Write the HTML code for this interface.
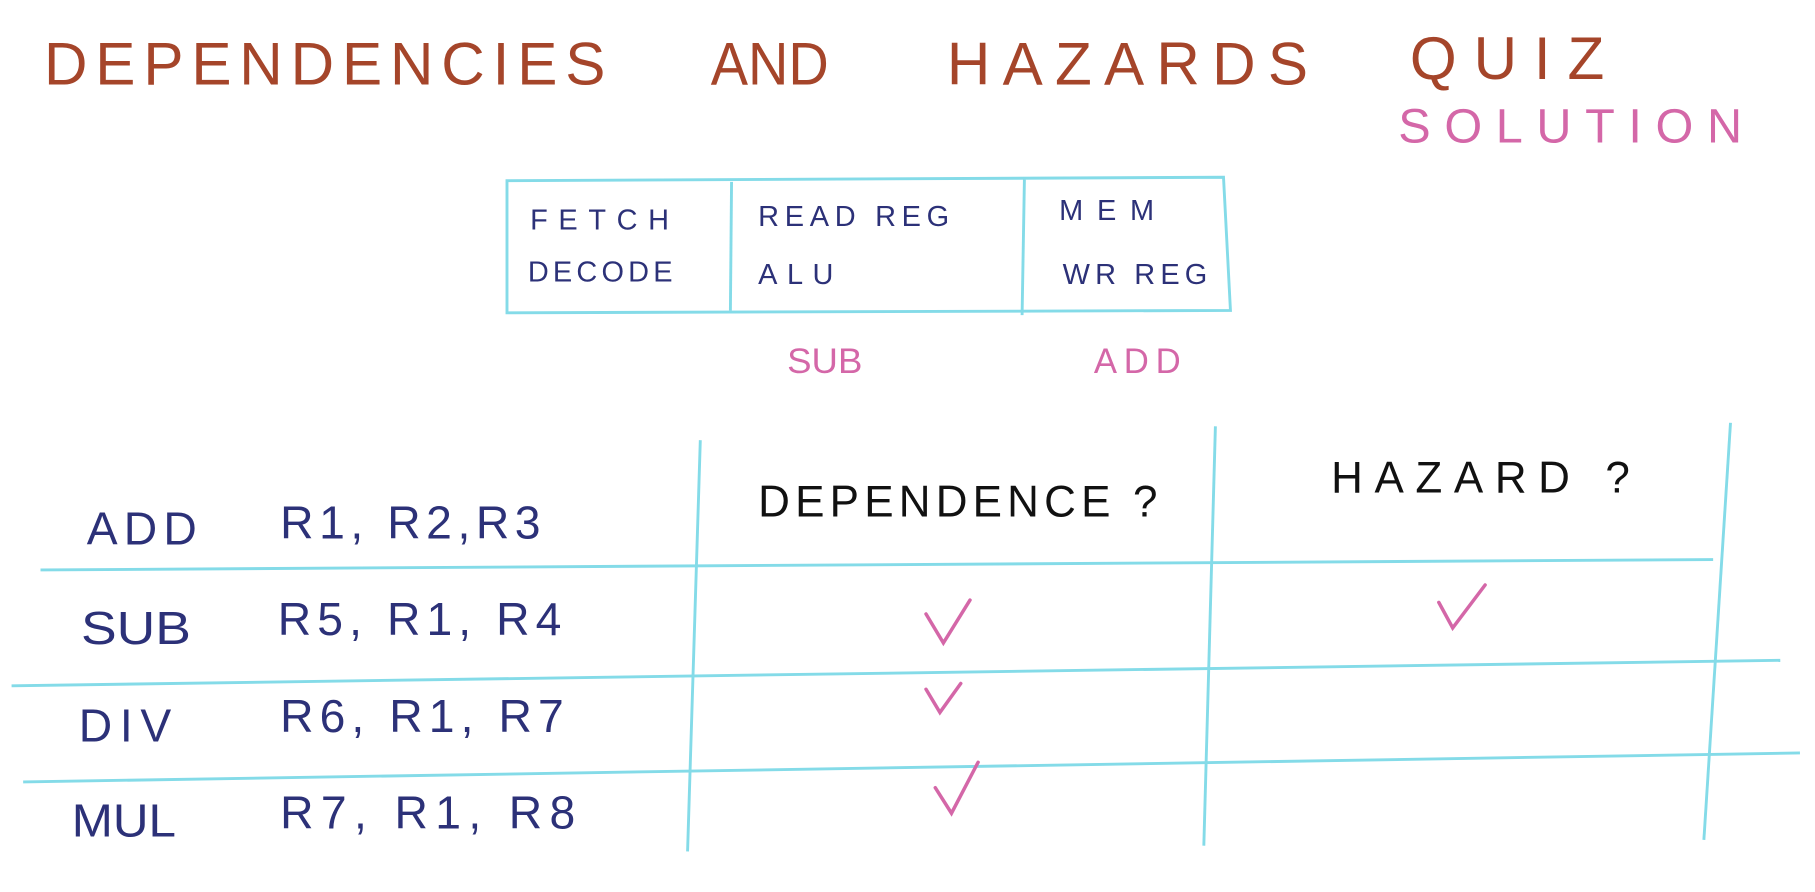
<!DOCTYPE html>
<html><head><meta charset="utf-8"><style>
html,body{margin:0;padding:0;background:#fff;}
svg{display:block;}
text{font-family:"Liberation Sans",sans-serif;}
</style></head><body>
<svg width="1815" height="892" viewBox="0 0 1568 770" preserveAspectRatio="none" xmlns="http://www.w3.org/2000/svg">
<rect width="1568" height="770" fill="#fff"/>
<g fill="#a5452a" font-size="52" lengthAdjust="spacing">
<text x="38" y="73" textLength="485">DEPENDENCIES</text>
<text x="614" y="73" textLength="102" lengthAdjust="spacingAndGlyphs">AND</text>
<text x="818" y="73" textLength="312">HAZARDS</text>
<text x="1218" y="68" textLength="168">QUIZ</text>
</g>
<text x="1208" y="123" fill="#d467a8" font-size="42" textLength="297" lengthAdjust="spacing">SOLUTION</text>
<g stroke="#84dbe8" stroke-width="2.5" fill="none">
<path d="M438 156 L1057 153 L1063 268 L438 270 Z"/>
<path d="M632 157 L631 268"/><path d="M885 155 L883 272"/>
<path d="M605 380 L594 735"/><path d="M1050 368 L1040 730"/><path d="M1495 365 L1472 725"/>
<path d="M35 492 L1480 483"/><path d="M10 592 L1538 570"/><path d="M20 675 L1555 650"/>
</g>
<g fill="#2c3178" font-size="25" lengthAdjust="spacing">
<text x="458" y="198" textLength="120">FETCH</text><text x="456" y="243" textLength="125">DECODE</text>
<text x="655" y="195" textLength="165">READ REG</text><text x="655" y="245" textLength="65">ALU</text>
<text x="915" y="190" textLength="82">MEM</text><text x="918" y="245" textLength="125">WR REG</text>
</g>
<g fill="#d467a8" font-size="30" lengthAdjust="spacing">
<text x="680" y="322" textLength="65" lengthAdjust="spacingAndGlyphs">SUB</text><text x="945" y="322" textLength="75">ADD</text>
</g>
<g fill="#111" font-size="38" lengthAdjust="spacing">
<text x="655" y="446" textLength="345">DEPENDENCE ?</text>
<text x="1150" y="425" textLength="258">HAZARD ?</text>
</g>
<g fill="#2c3178" font-size="40" lengthAdjust="spacing">
<text x="75" y="470" textLength="95">ADD</text><text x="242" y="465" textLength="225">R1, R2,R3</text>
<text x="70" y="556" textLength="95" lengthAdjust="spacingAndGlyphs">SUB</text><text x="240" y="548" textLength="245">R5, R1, R4</text>
<text x="68" y="640" textLength="80">DIV</text><text x="242" y="632" textLength="245">R6, R1, R7</text>
<text x="62" y="722" textLength="90" lengthAdjust="spacingAndGlyphs">MUL</text><text x="242" y="715" textLength="255">R7, R1, R8</text>
</g>
<g stroke="#d467a8" stroke-width="3" fill="none" stroke-linecap="round">
<path d="M800 530 L815 555 L838 518"/>
<path d="M800 595 L812 615 L830 590"/>
<path d="M808 680 L822 702 L845 658"/>
<path d="M1243 520 L1255 542 L1283 505"/>
</g>
</svg>
</body></html>
